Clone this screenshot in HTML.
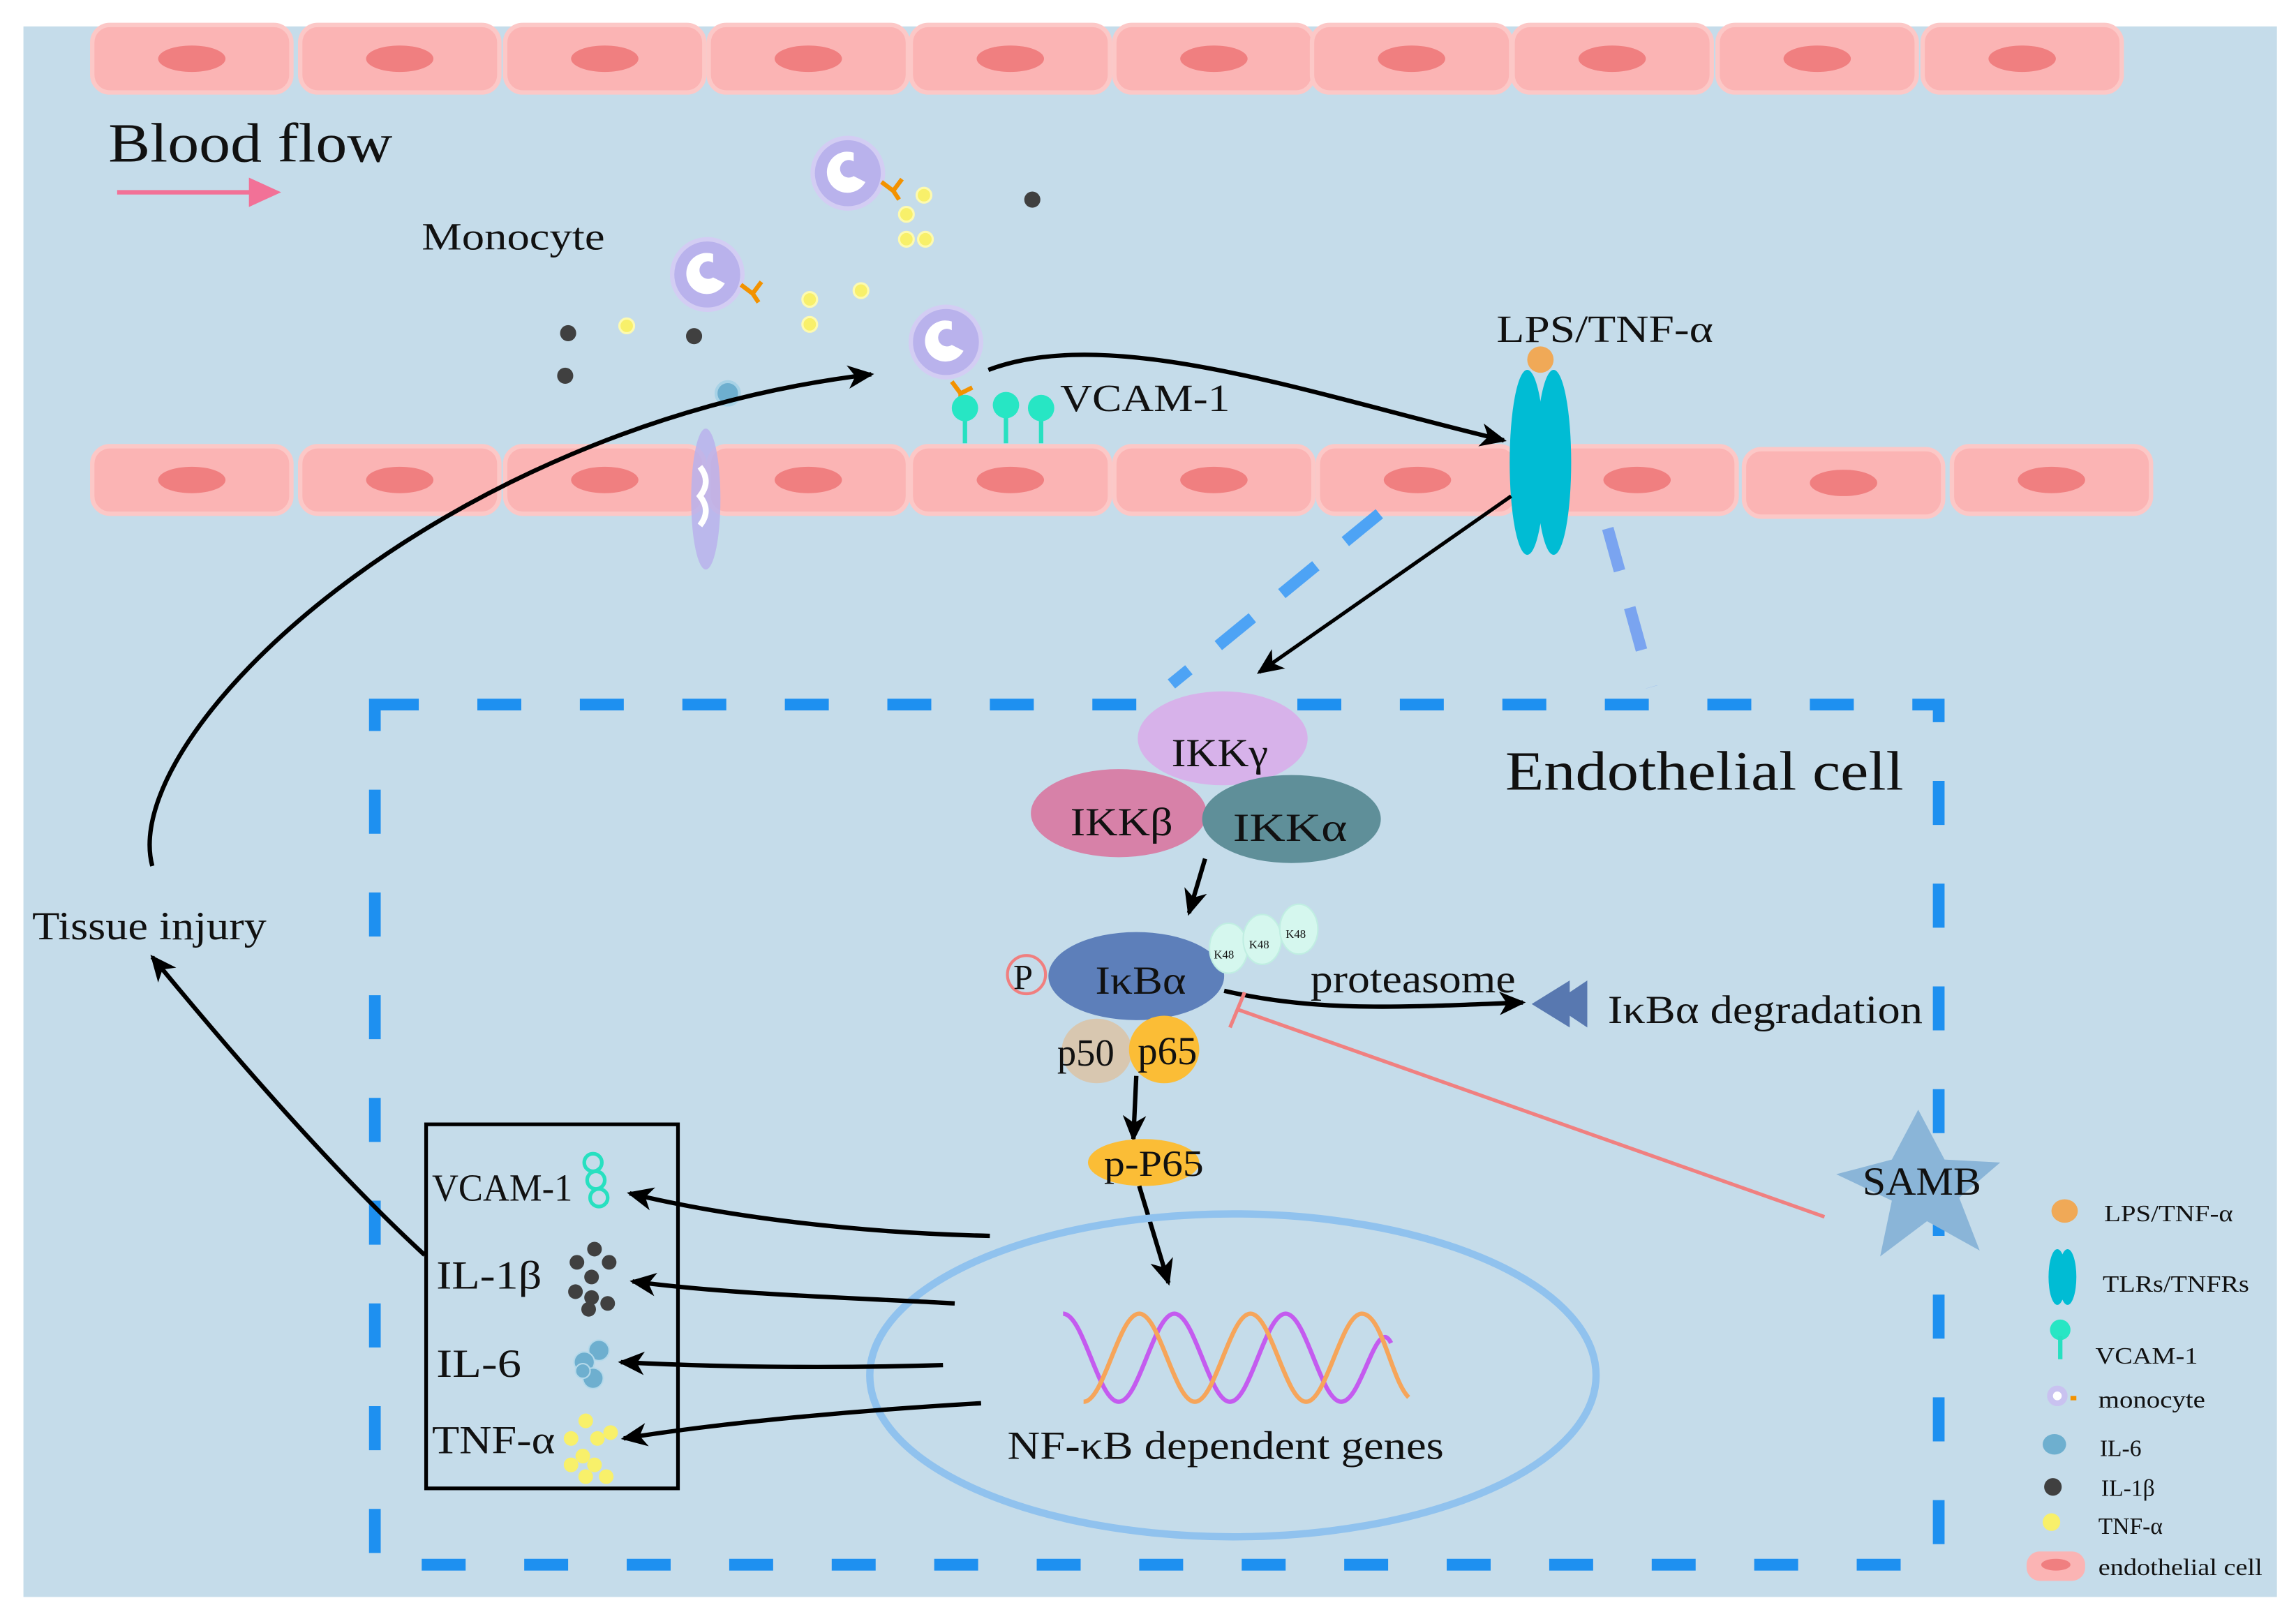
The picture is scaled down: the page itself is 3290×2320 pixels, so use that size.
<!DOCTYPE html>
<html><head><meta charset="utf-8"><style>
html,body{margin:0;padding:0;background:#fff}
svg{display:block}
text{font-family:"Liberation Serif",serif;fill:#111}
</style></head><body>
<svg width="3290" height="2320" viewBox="0 0 1568 1103" preserveAspectRatio="none" xmlns="http://www.w3.org/2000/svg">
<defs>
<marker id="arb" markerWidth="20" markerHeight="20" refX="16" refY="10" orient="auto" markerUnits="userSpaceOnUse" viewBox="0 0 20 20"><path d="M0,2 L18,10 L0,18 L5,10 Z" fill="#000"/></marker>
<g id="cell"><rect x="0" y="0" width="136" height="46" rx="12" fill="#fbb4b4" stroke="#fcc8c7" stroke-width="3"/><ellipse cx="68" cy="23" rx="23" ry="9" fill="#f07f80"/></g>
</defs>
<rect x="0" y="0" width="1568" height="1103" fill="#fff"/>
<rect x="16" y="18" width="1539" height="1070" fill="#c5dcea"/>
<use href="#cell" x="63" y="17"/><use href="#cell" x="205" y="17"/><use href="#cell" x="345" y="17"/><use href="#cell" x="484" y="17"/><use href="#cell" x="622" y="17"/><use href="#cell" x="761" y="17"/><use href="#cell" x="896" y="17"/><use href="#cell" x="1033" y="17"/><use href="#cell" x="1173" y="17"/><use href="#cell" x="1313" y="17"/>
<use href="#cell" x="63" y="304"/><use href="#cell" x="205" y="304"/><use href="#cell" x="345" y="304"/><use href="#cell" x="484" y="304"/><use href="#cell" x="622" y="304"/><use href="#cell" x="761" y="304"/><use href="#cell" x="900" y="304"/><use href="#cell" x="1050" y="304"/><use href="#cell" x="1191" y="306"/><use href="#cell" x="1333" y="304"/>
<text x="74" y="110" font-size="38" textLength="194" lengthAdjust="spacingAndGlyphs">Blood flow</text>
<line x1="80" y1="131" x2="180" y2="131" stroke="#f27197" stroke-width="3"/><path d="M170,121 L192,131 L170,141 Z" fill="#f27197"/>
<text x="288" y="170" font-size="26" textLength="125" lengthAdjust="spacingAndGlyphs">Monocyte</text>
<g><circle cx="579" cy="118" r="24" fill="#b9b2ec" stroke="#d3cdf3" stroke-width="3"/><path d="M583,104 a14,14 0 1 0 8,20 l-8,-4 a6,6 0 1 1 0,-10 z" fill="#fff"/><path d="M602,124 l8,6 l6,-8 M610,130 l4,6" stroke="#f39200" stroke-width="3" fill="none"/></g>
<g><circle cx="483" cy="187" r="24" fill="#b9b2ec" stroke="#d3cdf3" stroke-width="3"/><path d="M487,173 a14,14 0 1 0 8,20 l-8,-4 a6,6 0 1 1 0,-10 z" fill="#fff"/><path d="M506,194 l8,6 l6,-8 M514,200 l4,6" stroke="#f39200" stroke-width="3" fill="none"/></g>
<g><circle cx="646" cy="233" r="24" fill="#b9b2ec" stroke="#d3cdf3" stroke-width="3"/><path d="M650,219 a14,14 0 1 0 8,20 l-8,-4 a6,6 0 1 1 0,-10 z" fill="#fff"/><path d="M650,260 l6,8 l8,-4 M656,268 l0,6" stroke="#f39200" stroke-width="3" fill="none"/></g>
<ellipse cx="482" cy="340" rx="10" ry="48" fill="#b9b2ec" opacity="0.85"/><path d="M478,318 q8,10 0,20 q8,10 0,20" stroke="#fff" stroke-width="4" fill="none"/>
<g fill="#f8f06a" stroke="#fdfab0" stroke-width="1.5"><circle cx="631" cy="133" r="5"/><circle cx="619" cy="146" r="5"/><circle cx="619" cy="163" r="5"/><circle cx="632" cy="163" r="5"/><circle cx="588" cy="198" r="5"/><circle cx="553" cy="204" r="5"/><circle cx="553" cy="221" r="5"/><circle cx="428" cy="222" r="5"/></g>
<g fill="#404040"><circle cx="705" cy="136" r="5.5"/><circle cx="388" cy="227" r="5.5"/><circle cx="474" cy="229" r="5.5"/><circle cx="386" cy="256" r="5.5"/></g>
<circle cx="497" cy="268" r="8" fill="#6eafcf" stroke="#a8d2e6" stroke-width="2"/>
<g stroke="#27e0c0" stroke-width="3"><line x1="659" y1="285" x2="659" y2="302"/><line x1="687" y1="283" x2="687" y2="302"/><line x1="711" y1="285" x2="711" y2="302"/></g>
<g fill="#27e6c4"><circle cx="659" cy="278" r="9"/><circle cx="687" cy="276" r="9"/><circle cx="711" cy="278" r="9"/></g>
<text x="724" y="280" font-size="26" textLength="116" lengthAdjust="spacingAndGlyphs">VCAM-1</text>
<ellipse cx="1043" cy="315" rx="12" ry="63" fill="#00bcd4"/><ellipse cx="1061" cy="315" rx="12" ry="63" fill="#00bcd4"/>
<circle cx="1052" cy="245" r="9" fill="#f0a957"/>
<text x="1022" y="233" font-size="26" textLength="148" lengthAdjust="spacingAndGlyphs">LPS/TNF-α</text>
<rect x="256" y="480" width="1068" height="586" fill="none" stroke="#1e90f0" stroke-width="8" stroke-dasharray="30,40"/>
<line x1="942" y1="350" x2="800" y2="466" stroke="#4da3f5" stroke-width="8" stroke-dasharray="30,26"/>
<line x1="1098" y1="360" x2="1128" y2="468" stroke="#7aa4f0" stroke-width="8" stroke-dasharray="30,26"/>
<path d="M675,252 C760,220 900,270 1027,300" stroke="#000" stroke-width="3" fill="none" marker-end="url(#arb)"/>
<path d="M1032,338 L860,458" stroke="#000" stroke-width="2.5" fill="none" marker-end="url(#arb)"/>
<path d="M104,590 C80,500 300,290 595,255" stroke="#000" stroke-width="3" fill="none" marker-end="url(#arb)"/>
<text x="22" y="640" font-size="27" textLength="160" lengthAdjust="spacingAndGlyphs">Tissue injury</text>
<path d="M290,855 C230,800 160,720 104,652" stroke="#000" stroke-width="3" fill="none" marker-end="url(#arb)"/>
<ellipse cx="835" cy="503" rx="58" ry="32" fill="#d7b2ea"/><text x="800" y="522" font-size="27" textLength="66" lengthAdjust="spacingAndGlyphs">IKKγ</text>
<ellipse cx="764" cy="554" rx="60" ry="30" fill="#d781a8"/><text x="731" y="569" font-size="27" textLength="70" lengthAdjust="spacingAndGlyphs">IKKβ</text>
<ellipse cx="882" cy="558" rx="61" ry="30" fill="#5f8f99"/><text x="842" y="573" font-size="27" textLength="78" lengthAdjust="spacingAndGlyphs">IKKα</text>
<text x="1028" y="538" font-size="38" textLength="272" lengthAdjust="spacingAndGlyphs">Endothelial cell</text>
<path d="M823,585 L812,622" stroke="#000" stroke-width="3" fill="none" marker-end="url(#arb)"/>
<circle cx="701" cy="664" r="13" fill="none" stroke="#f07f7f" stroke-width="2"/><text x="692" y="674" font-size="24">P</text>
<ellipse cx="776" cy="665" rx="60" ry="30" fill="#5d7fba"/><text x="748" y="677" font-size="27" textLength="62" lengthAdjust="spacingAndGlyphs">IκBα</text>
<g fill="#d5f7ee" stroke="#c0eee2"><ellipse cx="839" cy="646" rx="13" ry="17"/><ellipse cx="862" cy="640" rx="13" ry="17"/><ellipse cx="887" cy="633" rx="13" ry="17"/></g>
<text x="829" y="653" font-size="8">K48</text><text x="853" y="646" font-size="8">K48</text><text x="878" y="639" font-size="8">K48</text>
<ellipse cx="749" cy="716" rx="24" ry="22" fill="#d8c7b0"/><ellipse cx="795" cy="715" rx="24" ry="23" fill="#fbbd36"/>
<text x="722" y="726" font-size="26">p50</text><text x="777" y="725" font-size="27">p65</text>
<text x="895" y="676" font-size="27" textLength="140" lengthAdjust="spacingAndGlyphs">proteasome</text>
<path d="M836,675 C900,690 960,686 1040,683" stroke="#000" stroke-width="3" fill="none" marker-end="url(#arb)"/>
<path d="M1046,684 L1072,668 L1072,700 Z M1060,684 L1084,668 L1084,700 Z" fill="#5878b0"/>
<text x="1098" y="697" font-size="27" textLength="215" lengthAdjust="spacingAndGlyphs">IκBα degradation</text>
<line x1="1246" y1="829" x2="846" y2="688" stroke="#f08080" stroke-width="2.5"/>
<line x1="840" y1="700" x2="850" y2="676" stroke="#f08080" stroke-width="2.5"/>
<path d="M1310,756 L1328,790 L1366,792 L1338,816 L1352,852 L1316,832 L1284,856 L1292,818 L1254,800 L1292,790 Z" fill="#8ab5d8"/>
<text x="1272" y="814" font-size="27" textLength="81" lengthAdjust="spacingAndGlyphs">SAMB</text>
<path d="M776,733 L774,776" stroke="#000" stroke-width="3" fill="none" marker-end="url(#arb)"/>
<ellipse cx="781" cy="792" rx="38" ry="16" fill="#fbbd36"/><text x="754" y="801" font-size="25" textLength="68" lengthAdjust="spacingAndGlyphs">p-P65</text>
<path d="M778,808 L798,874" stroke="#000" stroke-width="3" fill="none" marker-end="url(#arb)"/>
<ellipse cx="842" cy="937" rx="248" ry="110" fill="none" stroke="#90c2ee" stroke-width="5"/>
<path d="M726,895 C740,895 750,955 764,955 S788,895 802,895 S826,955 840,955 S864,895 878,895 S902,955 916,955 S940,895 950,915" stroke="#c45bef" stroke-width="3" fill="none"/>
<path d="M740,955 C754,955 764,895 778,895 S802,955 816,955 S840,895 854,895 S878,955 892,955 S916,895 930,895 S950,940 962,952" stroke="#f6a55a" stroke-width="3" fill="none"/>
<text x="688" y="994" font-size="27" textLength="298" lengthAdjust="spacingAndGlyphs">NF-κB dependent genes</text>
<rect x="291" y="766" width="172" height="248" fill="none" stroke="#000" stroke-width="2.5"/>
<text x="295" y="818" font-size="26" textLength="96" lengthAdjust="spacingAndGlyphs">VCAM-1</text>
<text x="298" y="878" font-size="27" textLength="72" lengthAdjust="spacingAndGlyphs">IL-1β</text>
<text x="298" y="938" font-size="27" textLength="58" lengthAdjust="spacingAndGlyphs">IL-6</text>
<text x="295" y="990" font-size="27" textLength="84" lengthAdjust="spacingAndGlyphs">TNF-α</text>
<g fill="none" stroke="#27e0c0" stroke-width="2.5"><circle cx="405" cy="792" r="6"/><circle cx="407" cy="804" r="6"/><circle cx="409" cy="816" r="6"/></g>
<g fill="#404040"><circle cx="406" cy="851" r="5"/><circle cx="394" cy="860" r="5"/><circle cx="416" cy="860" r="5"/><circle cx="404" cy="870" r="5"/><circle cx="393" cy="880" r="5"/><circle cx="404" cy="884" r="5"/><circle cx="415" cy="888" r="5"/><circle cx="402" cy="892" r="5"/></g>
<g fill="#6eafcf" stroke="#b5d9ea"><circle cx="409" cy="920" r="7"/><circle cx="399" cy="928" r="7"/><circle cx="405" cy="939" r="7"/><circle cx="398" cy="934" r="5"/></g>
<g fill="#f8f06a"><circle cx="400" cy="968" r="5"/><circle cx="390" cy="980" r="5"/><circle cx="408" cy="980" r="5"/><circle cx="417" cy="976" r="5"/><circle cx="398" cy="992" r="5"/><circle cx="390" cy="998" r="5"/><circle cx="406" cy="998" r="5"/><circle cx="414" cy="1006" r="5"/><circle cx="400" cy="1006" r="5"/></g>
<path d="M676,842 C590,840 500,830 430,813" stroke="#000" stroke-width="3" fill="none" marker-end="url(#arb)"/>
<path d="M652,888 C580,884 500,882 432,873" stroke="#000" stroke-width="3" fill="none" marker-end="url(#arb)"/>
<path d="M644,930 C580,932 500,932 424,928" stroke="#000" stroke-width="3" fill="none" marker-end="url(#arb)"/>
<path d="M670,956 C600,960 500,968 426,980" stroke="#000" stroke-width="3" fill="none" marker-end="url(#arb)"/>
<ellipse cx="1410" cy="825" rx="9" ry="8" fill="#f0a957"/><text x="1437" y="832" font-size="16" textLength="88" lengthAdjust="spacingAndGlyphs">LPS/TNF-α</text>
<ellipse cx="1405" cy="870" rx="6" ry="19" fill="#00bcd4"/><ellipse cx="1412" cy="870" rx="6" ry="19" fill="#00bcd4"/><text x="1436" y="880" font-size="16" textLength="100" lengthAdjust="spacingAndGlyphs">TLRs/TNFRs</text>
<circle cx="1407" cy="906" r="7" fill="#27e6c4"/><line x1="1407" y1="910" x2="1407" y2="926" stroke="#27e0c0" stroke-width="3"/><text x="1431" y="929" font-size="16" textLength="70" lengthAdjust="spacingAndGlyphs">VCAM-1</text>
<circle cx="1405" cy="951" r="7" fill="#c9c2f0"/><circle cx="1405" cy="951" r="3" fill="#fff"/><rect x="1414" y="951" width="4" height="3" fill="#f39200"/><text x="1433" y="959" font-size="16" textLength="73" lengthAdjust="spacingAndGlyphs">monocyte</text>
<ellipse cx="1403" cy="984" rx="8" ry="7" fill="#6eafcf"/><text x="1434" y="992" font-size="16">IL-6</text>
<circle cx="1402" cy="1013" r="6" fill="#404040"/><text x="1435" y="1019" font-size="16">IL-1β</text>
<circle cx="1401" cy="1037" r="6" fill="#f8f06a"/><text x="1433" y="1045" font-size="16">TNF-α</text>
<rect x="1384" y="1057" width="40" height="20" rx="9" fill="#fbb4b4"/><ellipse cx="1404" cy="1066" rx="10" ry="4" fill="#f07f80"/><text x="1433" y="1073" font-size="16" textLength="112" lengthAdjust="spacingAndGlyphs">endothelial cell</text>
</svg>
</body></html>
